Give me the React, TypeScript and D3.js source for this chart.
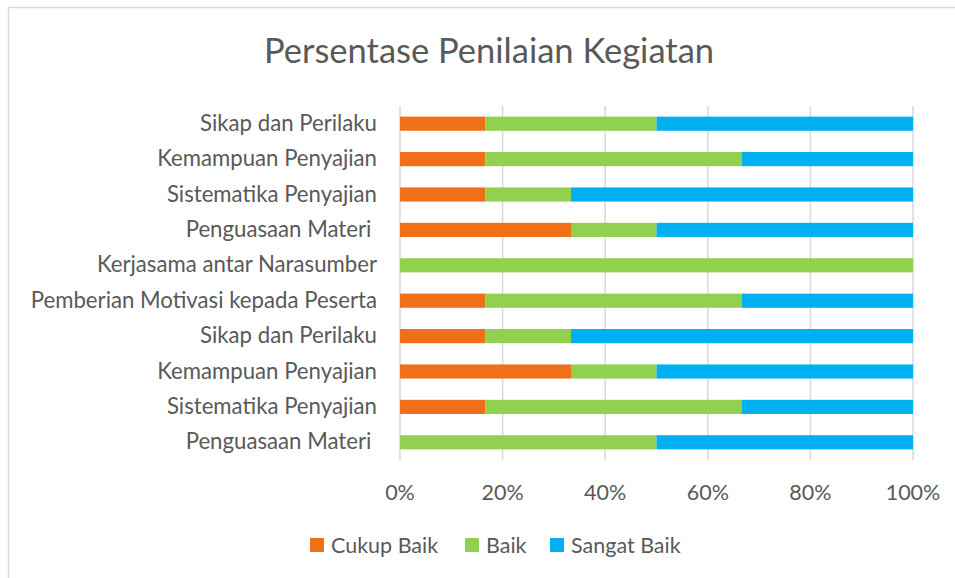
import React from "react";
import * as d3 from "d3";

const categories = [
  "Sikap dan Perilaku",
  "Kemampuan Penyajian",
  "Sistematika Penyajian",
  "Penguasaan Materi ",
  "Kerjasama antar Narasumber",
  "Pemberian Motivasi kepada Peserta",
  "Sikap dan Perilaku",
  "Kemampuan Penyajian",
  "Sistematika Penyajian",
  "Penguasaan Materi ",
];
const cukupBaik = [1, 1, 1, 2, 0, 1, 1, 2, 1, 0];
const baik = [2, 3, 1, 1, 6, 3, 1, 1, 3, 3];
const sangatBaik = [3, 2, 4, 3, 0, 2, 4, 3, 2, 3];
const seriesNames = ["Cukup Baik", "Baik", "Sangat Baik"];
const colors = ["#F07019", "#92D050", "#00B0F0"];
const ticks = [0, 0.2, 0.4, 0.6, 0.8, 1];

const FONT = "Lato, 'Open Sans', sans-serif";
const TEXT = "#595959";

export default function App() {
  const W = 955, H = 578;
  const x = d3.scaleLinear().domain([0, 1]).range([400, 913]);
  const y = d3
    .scaleBand<number>()
    .domain(categories.map((_, i) => i))
    .range([106, 460])
    .paddingInner(0.6)
    .paddingOuter(0.3);

  const rows = categories.map((c, i) => ({
    i,
    "Cukup Baik": cukupBaik[i],
    Baik: baik[i],
    "Sangat Baik": sangatBaik[i],
  }));
  const stack = d3
    .stack<any>()
    .keys(seriesNames)
    .offset(d3.stackOffsetExpand);
  const layers = stack(rows);
  const fmt = d3.format(".0%");

  const legendX = [310, 465, 550];

  return (
    <svg width={W} height={H} style={{ position: "absolute", left: 0, top: 0, display: "block" }}>
      <rect x={0} y={0} width={W} height={H} fill="#fff" />
      <rect x={8.5} y={7.5} width={W + 10} height={H + 10} fill="none" stroke="#d9d9d9" strokeWidth={1.5} />
      <text x={489} y={63} textAnchor="middle" fontFamily={FONT} fontSize={34.5} fill={TEXT}>
        Persentase Penilaian Kegiatan
      </text>
      {ticks.map((t) => (
        <line key={t} x1={x(t)} x2={x(t)} y1={106} y2={460} stroke="#d9d9d9" strokeWidth={1.5} />
      ))}
      {layers.map((layer, si) =>
        layer.map((d, i) => (
          <rect
            key={si + "-" + i}
            x={x(d[0])}
            y={y(i)}
            width={Math.max(0, x(d[1]) - x(d[0]))}
            height={y.bandwidth()}
            fill={colors[si]}
          />
        ))
      )}
      {categories.map((c, i) => (
        <text
          key={i}
          x={377}
          y={(y(i) as number) + y.bandwidth() / 2 + 7}
          textAnchor="end"
          fontFamily={FONT}
          fontSize={22.2}
          fill={TEXT}
          style={{ whiteSpace: "pre" }}
        >
          {c}
        </text>
      ))}
      {ticks.map((t) => (
        <text key={t} x={x(t)} y={500} textAnchor="middle" fontFamily={FONT} fontSize={21.5} fill={TEXT}>
          {fmt(t)}
        </text>
      ))}
      {seriesNames.map((s, i) => (
        <g key={s}>
          <rect x={legendX[i]} y={538} width={14} height={14} fill={colors[i]} />
          <text x={legendX[i] + 21} y={552.5} fontFamily={FONT} fontSize={21.5} fill={TEXT}>
            {s}
          </text>
        </g>
      ))}
    </svg>
  );
}
